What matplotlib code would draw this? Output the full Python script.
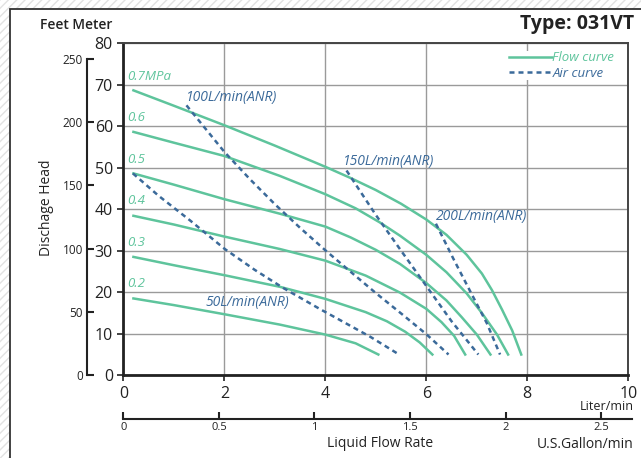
import numpy as np
import matplotlib
matplotlib.use("Agg")
import matplotlib.pyplot as plt
from matplotlib.patches import Rectangle

plt.rcParams['font.family'] = ['Open Sans', 'DejaVu Sans']

# flow curves (Liter/min, meter)
pressures = ['0.7MPa', '0.6', '0.5', '0.4', '0.3', '0.2']
label_y = [72, 62, 52, 42, 32, 22]

flow_x = [
    [0.2, 1.0, 2.0, 3.0, 4.0, 4.5, 5.0, 5.5, 6.0, 6.4, 6.8, 7.1, 7.3, 7.5, 7.7, 7.88],
    [0.2, 1.0, 2.0, 3.1, 4.0, 4.6, 5.08, 5.48, 6.0, 6.4, 6.8, 7.1, 7.4, 7.62],
    [0.2, 1.0, 2.0, 3.1, 4.0, 4.5, 5.0, 5.48, 6.0, 6.4, 6.7, 7.0, 7.27],
    [0.2, 1.0, 2.0, 3.1, 4.0, 4.8, 5.48, 6.0, 6.3, 6.55, 6.77],
    [0.2, 1.0, 2.0, 3.1, 4.0, 4.8, 5.22, 5.58, 5.87, 6.12],
    [0.2, 1.0, 2.0, 3.1, 4.0, 4.6, 5.05],
]
flow_y = [
    [68.6, 64.9, 60.2, 55.3, 50.2, 47.5, 44.6, 41.3, 37.5, 33.8, 29.0, 24.5, 20.5, 15.8, 10.8, 5.0],
    [58.6, 56.0, 52.8, 48.0, 43.6, 40.2, 36.8, 33.6, 29.0, 24.8, 19.7, 15.0, 9.8, 5.0],
    [48.6, 45.9, 42.4, 38.9, 35.8, 33.2, 30.2, 26.8, 22.2, 18.0, 14.0, 9.8, 5.0],
    [38.4, 36.3, 33.4, 30.4, 27.6, 24.0, 19.9, 16.0, 12.8, 9.5, 5.0],
    [28.5, 26.5, 24.1, 21.3, 18.4, 15.2, 13.0, 10.5, 7.9, 5.0],
    [18.5, 16.9, 14.7, 12.2, 9.8, 7.7, 5.0],
]

# air consumption curves
air_labels = ['50L/min(ANR)', '100L/min(ANR)', '150L/min(ANR)', '200L/min(ANR)']
air_label_pos = [(1.62, 17.6), (1.24, 66.9), (4.35, 51.5), (6.19, 38.3)]
air_x = [
    [0.19, 0.7, 1.32, 2.01, 2.6, 3.17, 3.9, 4.29, 4.9, 5.46],
    [1.25, 2.0, 2.5, 3.0, 3.5, 4.0, 4.6, 5.0, 5.54, 6.0, 6.44],
    [4.42, 5.0, 5.5, 6.0, 6.5, 7.03],
    [6.19, 6.53, 6.87, 7.2, 7.46],
]
air_y = [
    [48.6, 43.2, 37.3, 30.4, 25.4, 21.0, 15.9, 13.3, 9.2, 5.0],
    [65.0, 53.8, 47.3, 41.2, 35.5, 30.1, 23.9, 19.8, 14.5, 9.9, 5.0],
    [49.3, 38.6, 30.0, 21.5, 13.0, 5.0],
    [36.5, 28.2, 20.2, 12.5, 5.0],
]

green = '#5ec49c'
blue = '#3b6a9a'
dark = '#222222'

fig = plt.figure(figsize=(6.41, 4.58), dpi=100)

# hatched background and frame
fig.patches.append(Rectangle((0, 0), 1, 1, transform=fig.transFigure,
                             facecolor='white', edgecolor='#e2e2e2',
                             hatch='////', lw=0, zorder=-10))
fig.patches.append(Rectangle((10 / 641, -0.1), 1.0, 1.1 - 9 / 458,
                             transform=fig.transFigure, facecolor='white',
                             edgecolor='#333333', lw=1.3, zorder=-9))

ax = fig.add_axes([0.1924, 0.1806, 0.7878, 0.7255])
ax.set_facecolor('none')
ax.set_xlim(0, 10)
ax.set_ylim(0, 80)

for i in range(len(pressures)):
    ax.plot(flow_x[i], flow_y[i], color=green, lw=1.8, solid_joinstyle='round',
            label='Flow curve' if i == 0 else None, zorder=3)
    ax.text(0.08, label_y[i], pressures[i], color=green, fontsize=9.5,
            style='italic', va='center', ha='left')

for i in range(len(air_labels)):
    ax.plot(air_x[i], air_y[i], color=blue, lw=1.8, ls=(0, (2.0, 1.6)),
            label='Air curve' if i == 0 else None, zorder=4)
    ax.text(air_label_pos[i][0], air_label_pos[i][1], air_labels[i], color=blue,
            fontsize=10, style='italic', va='center', ha='left')

ax.set_xticks(np.arange(0, 11, 2))
ax.set_yticks(np.arange(0, 81, 10))
ax.grid(True, color='#9a9a9a', lw=1.0)
ax.set_axisbelow(True)
ax.tick_params(axis='both', labelsize=11.5, length=4, width=1.2, color=dark,
               labelcolor=dark)
for s in ['left', 'bottom']:
    ax.spines[s].set_linewidth(2.0)
    ax.spines[s].set_color(dark)
for s in ['top', 'right']:
    ax.spines[s].set_linewidth(1.4)
    ax.spines[s].set_color('#444444')

leg = ax.legend(loc='upper right', bbox_to_anchor=(0.985, 0.995), frameon=True,
                facecolor='white', edgecolor='none', framealpha=1,
                handlelength=3.3, handletextpad=0.0,
                labelspacing=0.2, borderpad=0.0, labelcolor='linecolor',
                prop={'style': 'italic', 'size': 9.5})
leg.set_zorder(5)

# feet axis
ft = ax.secondary_yaxis(-0.072, functions=(lambda m: m / 0.3048, lambda f: f * 0.3048))
ft.set_yticks(np.arange(0, 251, 50))
ft.spines['left'].set_bounds(0, 250)
ft.spines['left'].set_linewidth(1.5)
ft.spines['left'].set_color(dark)
ft.tick_params(direction='in', length=5, width=1.5, labelsize=8.5,
               color=dark, labelcolor=dark, pad=3)

# gallon axis
gal = ax.secondary_xaxis(-0.131, functions=(lambda l: l / 3.785, lambda g: g * 3.785))
gal.set_xticks([0, 0.5, 1, 1.5, 2, 2.5])
gal.set_xticklabels(['0', '0.5', '1', '1.5', '2', '2.5'])
gal.spines['bottom'].set_bounds(0, 10.08 / 3.785)
gal.spines['bottom'].set_linewidth(1.5)
gal.spines['bottom'].set_color(dark)
gal.tick_params(direction='in', length=5, width=1.5, labelsize=8,
                color=dark, labelcolor=dark, pad=2.5)

ax.text(1.01, -0.095, 'Liter/min', transform=ax.transAxes, ha='right',
        va='center', fontsize=9, color=dark)
ax.text(0.508, -0.205, 'Liquid Flow Rate', transform=ax.transAxes, ha='center',
        va='center', fontsize=10, color=dark)
ax.text(1.01, -0.207, 'U.S.Gallon/min', transform=ax.transAxes, ha='right',
        va='center', fontsize=10, color=dark)

fig.text(0.073, 0.546, 'Dischage Head', rotation=90, ha='center', va='center',
         fontsize=10, color=dark)
fig.text(0.062, 0.945, 'Feet Meter', ha='left', va='center', fontsize=10,
         color=dark, fontweight='semibold')
fig.text(0.989, 0.948, 'Type: 031VT', ha='right', va='center', fontsize=14,
         color=dark, fontweight='bold')

fig.savefig('out.png', dpi=100)
